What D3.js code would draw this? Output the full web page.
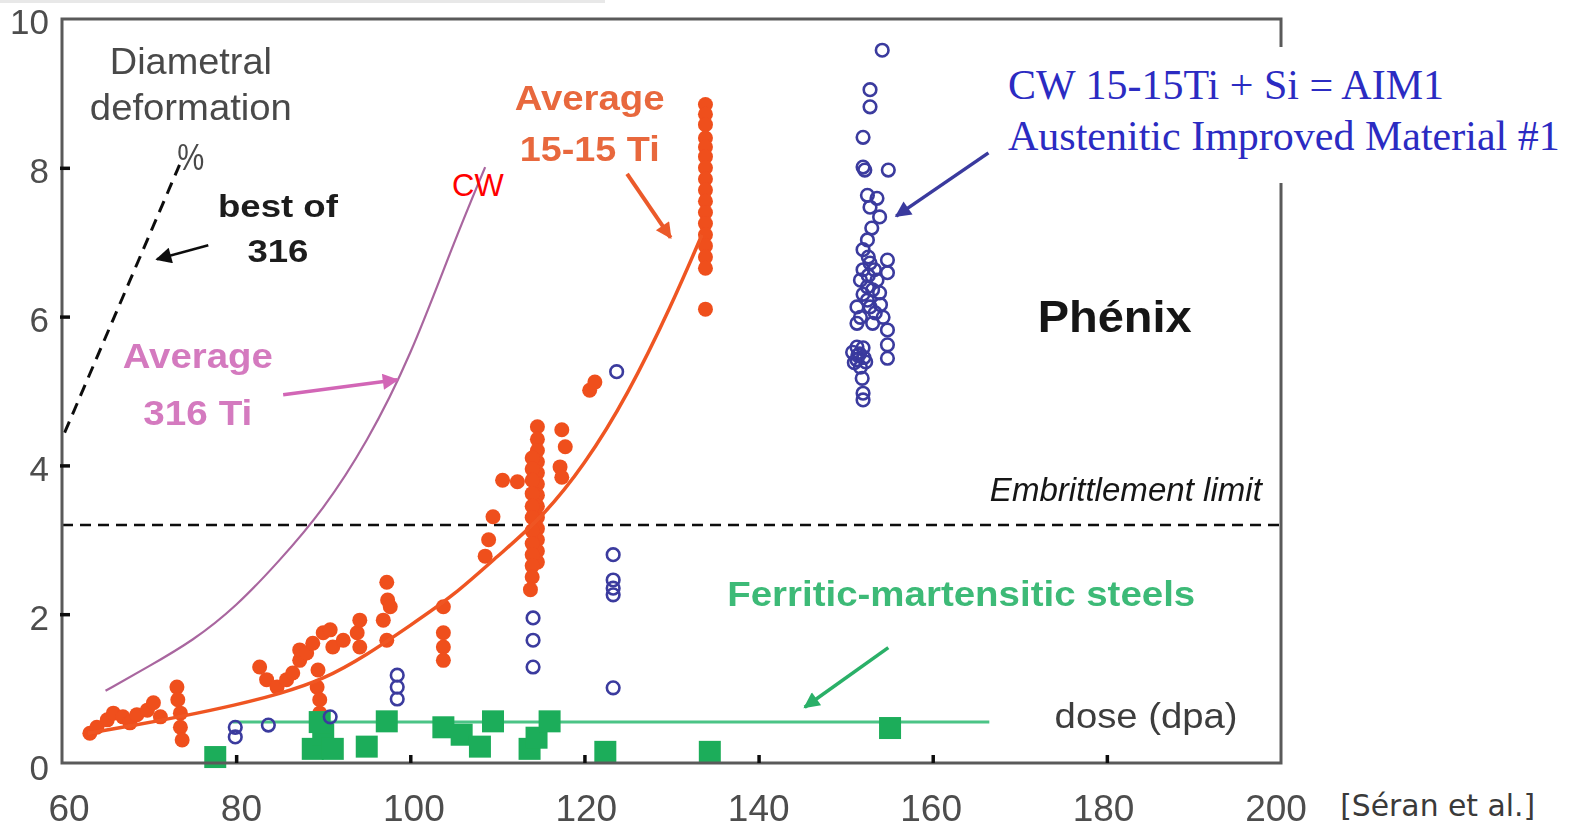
<!DOCTYPE html>
<html>
<head>
<meta charset="utf-8">
<script src="https://cdn.jsdelivr.net/npm/d3@7"></script>
<style>
  body { margin: 0; background: #fff; }
  svg { display: block; }
  text { font-family: "Liberation Sans", Arial, Helvetica, sans-serif; }
</style>
</head>
<body>
<svg id="chart" width="1575" height="829"></svg>
<script>
// ---- axis ticks ----
const xTicks = [60, 80, 100, 120, 140, 160, 180, 200];
const yTicks = [0, 2, 4, 6, 8, 10];

// ---- fitted trend: average 15-15 Ti ----
const avg1515Dose = [63, 68, 73.5, 80, 85, 90, 95, 100, 105, 110, 115, 120, 125, 130, 133.5];
const avg1515Def  = [0.40, 0.50, 0.62, 0.78, 0.93, 1.12, 1.45, 1.85, 2.25, 2.78, 3.28, 4.00, 4.95, 6.15, 7.10];

// ---- fitted trend: average 316 Ti (CW) ----
const avg316Dose = [65, 70, 75, 80, 85, 90, 95, 100, 105, 108.6];
const avg316Def  = [0.97, 1.30, 1.64, 2.10, 2.72, 3.40, 4.30, 5.45, 7.00, 8.01];

// ---- best of 316 (dashed) ----
const best316Dose = [60.3, 73.5];
const best316Def  = [4.44, 8.04];

// ---- embrittlement limit and ferritic-martensitic average ----
const embrittlementLimit = 3.2;
const ferriticLevel = 0.55;
const ferriticRange = [79.6, 166.5];

// ---- 15-15 Ti measurements [dose dpa, deformation %] ----
const steel1515 = [
  [63.2,0.40],[64.0,0.48],[65.2,0.58],[65.9,0.67],[67.0,0.62],[67.8,0.54],[68.6,0.65],[69.8,0.71],
  [70.5,0.81],[71.3,0.62],[73.2,1.02],[73.3,0.85],[73.6,0.67],[73.6,0.48],[73.8,0.31],
  [82.7,1.29],[83.5,1.12],[84.7,1.02],[85.8,1.12],[86.5,1.21],[87.3,1.38],[87.3,1.52],[88.1,1.48],
  [88.8,1.61],[89.4,1.25],[89.3,1.02],[89.6,0.85],[89.6,0.67],[90.0,1.75],[90.8,1.79],[91.1,1.56],
  [92.3,1.65],[93.9,1.75],[94.2,1.92],[94.2,1.56],[96.9,1.92],[97.3,1.65],[97.3,2.43],[97.4,2.19],[97.7,2.10],
  [103.8,2.10],[103.8,1.75],[103.8,1.56],[103.8,1.38],
  [108.6,2.78],[109.0,3.00],[109.5,3.31],[110.6,3.80],[112.3,3.78],
  [114.6,4.52],[114.6,4.35],[114.6,4.20],[114.6,4.05],[114.6,3.90],[114.6,3.75],[114.6,3.60],
  [114.6,3.45],[114.6,3.30],[114.6,3.15],[114.6,3.00],[114.6,2.85],[114.6,2.70],
  [114.0,4.10],[114.0,3.95],[114.0,3.80],[114.0,3.62],[114.0,3.45],[114.0,3.30],[114.0,3.12],
  [114.0,2.95],[114.0,2.80],[114.0,2.65],[114.0,2.50],[113.8,2.33],
  [117.4,4.48],[117.8,4.25],[117.2,3.98],[117.4,3.84],
  [120.6,5.01],[121.2,5.12],
  [133.9,8.85],[133.9,8.72],[133.9,8.58],[133.9,8.40],[133.9,8.28],[133.9,8.15],[133.9,8.00],
  [133.9,7.85],[133.9,7.70],[133.9,7.55],[133.9,7.40],[133.9,7.25],[133.9,7.10],[133.9,6.95],
  [133.9,6.80],[133.9,6.65],[133.9,6.10]
];

// ---- AIM1 (CW 15-15Ti + Si) measurements ----
const aim1 = [
  [79.9,0.48],[79.9,0.35],[83.7,0.51],[90.8,0.62],
  [98.5,1.18],[98.5,1.02],[98.5,0.86],
  [114.1,1.95],[114.1,1.65],[114.1,1.29],
  [123.3,2.80],[123.3,2.46],[123.3,2.35],[123.3,2.26],[123.3,1.01],[123.7,5.26],
  [154.2,9.58],[152.8,9.05],[152.8,8.82],[152.0,8.41],[152.0,8.01],[152.2,7.97],[154.9,7.97],
  [152.5,7.63],[153.6,7.59],[152.8,7.47],[153.9,7.34],[153.0,7.19],[152.5,7.03],[152.0,6.90],
  [154.8,6.76],[152.8,6.72],[152.0,6.63],[154.8,6.59],[153.6,6.49],[152.5,6.40],[153.9,6.32],
  [152.5,6.22],[152.8,6.13],[151.3,6.13],[151.7,5.99],[154.3,5.99],[153.1,5.91],[154.8,5.82],
  [151.3,5.91],[154.8,5.62],[151.3,5.59],[150.8,5.52],[152.0,5.58],[151.3,5.42],[154.8,5.44],
  [151.7,5.32],[151.9,5.17],[152.0,4.97],[152.0,4.88],[151.4,5.48],[152.3,5.39],
  [152.6,6.80],[153.3,6.63],[151.7,6.49],[153.1,6.36],[154.0,6.16],
  [151.6,5.50],[152.1,5.45],[151.0,5.38],[152.6,6.55],[152.0,6.30],[153.4,6.05]
];

// ---- ferritic-martensitic steel measurements ----
const ferritic = [
  [77.6,0.08],[88.8,0.19],[90.0,0.38],[89.6,0.55],[91.1,0.19],[95.0,0.22],[97.3,0.56],
  [103.8,0.48],[105.9,0.38],[108.0,0.22],[109.5,0.56],[113.7,0.19],[114.5,0.34],[116.0,0.56],
  [122.4,0.15],[134.4,0.15],[155.1,0.47]
];

const svg = d3.select("#chart");
const x = d3.scaleLinear().domain([60, 200]).range([62, 1281]);
const y = d3.scaleLinear().domain([0, 10]).range([763, 19]);
// tick-label placement (labels sit slightly off their ticks)
const xLabel = d3.scaleLinear().domain([60, 200]).range([69, 1276]);
const yLabel = d3.scaleLinear().domain([0, 10]).range([767, 21]);

const defs = svg.append("defs");
// slight softening of the figure
defs.append("filter").attr("id", "soft")
  .attr("x", "-2%").attr("y", "-2%").attr("width", "104%").attr("height", "104%")
  .append("feGaussianBlur").attr("stdDeviation", 0.7);

// arrow heads
function marker(id, color) {
  defs.append("marker")
    .attr("id", id).attr("viewBox", "0 0 10 10")
    .attr("refX", 9).attr("refY", 5)
    .attr("markerWidth", 20).attr("markerHeight", 16)
    .attr("markerUnits", "userSpaceOnUse")
    .attr("orient", "auto")
    .append("path").attr("d", "M0,0 L10,5 L0,10 Z").attr("fill", color);
}
marker("ah-black", "#111");
marker("ah-pink", "#d266b6");
marker("ah-orange", "#eb5a2c");
marker("ah-blue", "#3a3a9e");
marker("ah-green", "#2bb068");

// faint strip along the top edge
svg.append("rect").attr("x", 0).attr("y", 0).attr("width", 605).attr("height", 3).attr("fill", "#e8e8e8");

const fig = svg.append("g").attr("filter", "url(#soft)");
const plot = fig.append("g");

// purple trend (316 Ti)
plot.append("path")
  .datum(d3.zip(avg316Dose, avg316Def))
  .attr("d", d3.line().x(d => x(d[0])).y(d => y(d[1])).curve(d3.curveBasis))
  .attr("fill", "none").attr("stroke", "#a9669f").attr("stroke-width", 2.2);

// best of 316 dashed
plot.append("path")
  .datum(d3.zip(best316Dose, best316Def))
  .attr("d", d3.line().x(d => x(d[0])).y(d => y(d[1])))
  .attr("fill", "none").attr("stroke", "#111").attr("stroke-width", 3)
  .attr("stroke-dasharray", "12,8");

// embrittlement limit
plot.append("line")
  .attr("x1", x(60)).attr("x2", x(200))
  .attr("y1", y(embrittlementLimit)).attr("y2", y(embrittlementLimit))
  .attr("stroke", "#111").attr("stroke-width", 2.5).attr("stroke-dasharray", "11,7");

// 15-15 Ti points
plot.append("g").selectAll("circle").data(steel1515).join("circle")
  .attr("cx", d => x(d[0])).attr("cy", d => y(d[1])).attr("r", 7.5)
  .attr("fill", "#ef4f1e");

// 15-15 Ti trend
plot.append("path")
  .datum(d3.zip(avg1515Dose, avg1515Def))
  .attr("d", d3.line().x(d => x(d[0])).y(d => y(d[1])).curve(d3.curveBasis))
  .attr("fill", "none").attr("stroke", "#ef5522").attr("stroke-width", 3.5);

// ferritic-martensitic level
plot.append("line")
  .attr("x1", x(ferriticRange[0])).attr("x2", x(ferriticRange[1]))
  .attr("y1", y(ferriticLevel)).attr("y2", y(ferriticLevel))
  .attr("stroke", "#4cc486").attr("stroke-width", 3);

// ferritic-martensitic squares
const sq = 22;
plot.append("g").selectAll("rect").data(ferritic).join("rect")
  .attr("x", d => x(d[0]) - sq / 2).attr("y", d => y(d[1]) - sq / 2)
  .attr("width", sq).attr("height", sq)
  .attr("fill", "#1fad5a");

// AIM1 open circles
plot.append("g").selectAll("circle").data(aim1).join("circle")
  .attr("cx", d => x(d[0])).attr("cy", d => y(d[1])).attr("r", 6.3)
  .attr("fill", "none").attr("stroke", "#3a3a9e").attr("stroke-width", 2.6);

// frame
plot.append("rect")
  .attr("x", x(60)).attr("y", y(10))
  .attr("width", x(200) - x(60)).attr("height", y(0) - y(10))
  .attr("fill", "none").attr("stroke", "#5a5a5a").attr("stroke-width", 3);

// inward ticks
const xAxis = d3.axisBottom(x).tickValues(xTicks.slice(1, -1)).tickSizeInner(-8).tickSizeOuter(0).tickFormat("");
const gx = fig.append("g").attr("transform", `translate(0,${y(0)})`).call(xAxis);
gx.select(".domain").remove();
gx.selectAll(".tick line").attr("stroke", "#111").attr("stroke-width", 3.5);

const yAxis = d3.axisLeft(y).tickValues(yTicks.slice(1, -1)).tickSizeInner(-10).tickSizeOuter(0).tickFormat("");
const gy = fig.append("g").attr("transform", `translate(${x(60) - 2},0)`).call(yAxis);
gy.select(".domain").remove();
gy.selectAll(".tick line").attr("stroke", "#111").attr("stroke-width", 3.5);

// tick labels
fig.append("g").selectAll("text").data(xTicks).join("text")
  .attr("x", d => xLabel(d)).attr("y", 821)
  .attr("text-anchor", "middle").attr("font-size", 37).attr("fill", "#4d4d4d")
  .text(d => d);
fig.append("g").selectAll("text").data(yTicks).join("text")
  .attr("x", 49).attr("y", d => yLabel(d)).attr("dy", "0.36em")
  .attr("text-anchor", "end").attr("font-size", 35).attr("fill", "#4d4d4d")
  .text(d => d);

// annotation arrows (dose, deformation)
const arrows = [
  { from: [76.8, 6.96], to: [70.9, 6.77], m: "ah-black", c: "#111", w: 2.5 },
  { from: [85.4, 4.95], to: [98.5, 5.15], m: "ah-pink", c: "#d266b6", w: 3.5 },
  { from: [124.9, 7.92], to: [129.9, 7.06], m: "ah-orange", c: "#eb5a2c", w: 4 },
  { from: [154.9, 1.55], to: [145.3, 0.75], m: "ah-green", c: "#2bb068", w: 3.5 }
];
fig.append("g").selectAll("line").data(arrows).join("line")
  .attr("x1", d => x(d.from[0])).attr("y1", d => y(d.from[1]))
  .attr("x2", d => x(d.to[0])).attr("y2", d => y(d.to[1]))
  .attr("stroke", d => d.c).attr("stroke-width", d => d.w)
  .attr("marker-end", d => `url(#${d.m})`);

// annotation text (dose, deformation for the baseline)
const notes = [
  { t: "Diametral", d: 74.8, v: 9.26, size: 36, w: 162, fill: "#4a4a4a", a: "middle" },
  { t: "deformation", d: 74.8, v: 8.64, size: 36, w: 202, fill: "#4a4a4a", a: "middle" },
  { t: "%", d: 74.8, v: 7.97, size: 36, w: 27, fill: "#4a4a4a", a: "middle" },
  { t: "best of", d: 84.8, v: 7.34, size: 32, w: 120, fill: "#1c1c1c", a: "middle", b: true },
  { t: "316", d: 84.8, v: 6.73, size: 32, w: 61, fill: "#1c1c1c", a: "middle", b: true },
  { t: "Average", d: 75.6, v: 5.31, size: 35, w: 150, fill: "#d47abf", a: "middle", b: true },
  { t: "316 Ti", d: 75.6, v: 4.54, size: 35, w: 109, fill: "#d47abf", a: "middle", b: true },
  { t: "Average", d: 120.6, v: 8.78, size: 35, w: 150, fill: "#e8673c", a: "middle", b: true },
  { t: "15-15 Ti", d: 120.6, v: 8.09, size: 35, w: 140, fill: "#e8673c", a: "middle", b: true },
  { t: "Phénix", d: 180.9, v: 5.79, size: 44, w: 154, fill: "#151515", a: "middle", b: true },
  { t: "Embrittlement limit", d: 197.8, v: 3.52, size: 33, w: 272, fill: "#151515", a: "end", i: true },
  { t: "Ferritic-martensitic steels", d: 136.4, v: 2.11, size: 35, w: 468, fill: "#3cba77", a: "start", b: true },
  { t: "dose (dpa)", d: 174.0, v: 0.47, size: 35, w: 183, fill: "#3d3d3d", a: "start" }
];
fig.append("g").selectAll("text").data(notes).join("text")
  .attr("x", d => x(d.d)).attr("y", d => y(d.v))
  .attr("text-anchor", d => d.a)
  .attr("font-size", d => d.size)
  .attr("font-weight", d => d.b ? "bold" : "normal")
  .attr("font-style", d => d.i ? "italic" : "normal")
  .attr("fill", d => d.fill)
  .attr("textLength", d => d.w).attr("lengthAdjust", "spacingAndGlyphs")
  .text(d => d.t);

// white panel behind the AIM1 caption
svg.append("rect").attr("x", 985).attr("y", 47).attr("width", 590).attr("height", 136).attr("fill", "#fff");

// AIM1 arrow
const aimArrow = { from: [166.4, 8.20], to: [155.8, 7.35] };
svg.append("line")
  .attr("x1", x(aimArrow.from[0])).attr("y1", y(aimArrow.from[1]))
  .attr("x2", x(aimArrow.to[0])).attr("y2", y(aimArrow.to[1]))
  .attr("stroke", "#3a3a9e").attr("stroke-width", 3.5)
  .attr("marker-end", "url(#ah-blue)");

// CW marker on the 316 Ti trend
svg.append("text").attr("x", x(104.8)).attr("y", y(7.62))
  .attr("font-size", 31).attr("fill", "#ff0000").text("CW");

// AIM1 caption
const cap = svg.append("g").attr("font-size", 42).attr("fill", "#2b2bc2");
cap.append("text").attr("x", x(168.65)).attr("y", y(8.92))
  .style("font-family", "'Liberation Serif', 'Times New Roman', serif")
  .text("CW 15-15Ti + Si = AIM1");
cap.append("text").attr("x", x(168.65)).attr("y", y(8.24))
  .style("font-family", "'Liberation Serif', 'Times New Roman', serif")
  .text("Austenitic Improved Material #1");

// source
svg.append("text").attr("x", x(206.8)).attr("y", y(-0.71))
  .attr("font-size", 30).attr("fill", "#3a3a3a")
  .attr("textLength", 195).attr("lengthAdjust", "spacingAndGlyphs")
  .style("font-family", "'Comic Sans MS', 'DejaVu Sans', sans-serif")
  .text("[Séran et al.]");
</script>
</body>
</html>
